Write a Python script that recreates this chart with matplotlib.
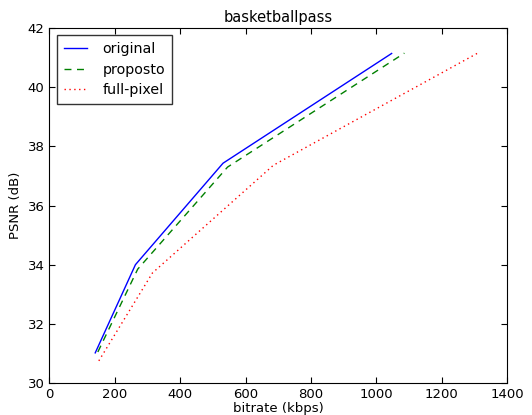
import matplotlib
matplotlib.use('Agg')
import matplotlib.pyplot as plt

# rate-distortion points for each encoder
original_kbps = [140, 263, 531, 1047]
original_psnr = [31.02, 34.0, 37.43, 41.14]

proposto_kbps = [148, 270, 545, 1086]
proposto_psnr = [31.05, 33.85, 37.3, 41.15]

fullpixel_kbps = [151, 315, 685, 1315]
fullpixel_psnr = [30.75, 33.72, 37.36, 41.18]

plt.rcParams['font.size'] = 9.5
plt.rcParams['xtick.direction'] = 'in'
plt.rcParams['ytick.direction'] = 'in'

fig = plt.figure(figsize=(5.32, 4.15), dpi=100)
ax = fig.add_axes([0.093, 0.077, 0.86, 0.8555])

ax.plot(original_kbps, original_psnr, color='#0000ff', lw=1, label='original')
ax.plot(proposto_kbps, proposto_psnr, color='#008000', lw=1, dashes=(5, 4),
        label='proposto')
ax.plot(fullpixel_kbps, fullpixel_psnr, color='#ff0000', lw=1, dashes=(1, 2.5),
        label='full-pixel')

ax.set_xlim(0, 1400)
ax.set_ylim(30, 42)
ax.set_xticks(range(0, 1401, 200))
ax.set_yticks(range(30, 43, 2))
ax.tick_params(top=True, right=True, length=4, labelsize=9.5)
ax.set_xlabel('bitrate (kbps)', labelpad=1)
ax.set_ylabel('PSNR (dB)')
ax.set_title('basketballpass', fontsize=10.5, pad=4)
ax.legend(loc='upper left', fancybox=False, edgecolor='black', fontsize=10.3,
          handlelength=1.6, handletextpad=1.1, borderpad=0.5, labelspacing=0.45)

plt.savefig('out.png', dpi=100)
